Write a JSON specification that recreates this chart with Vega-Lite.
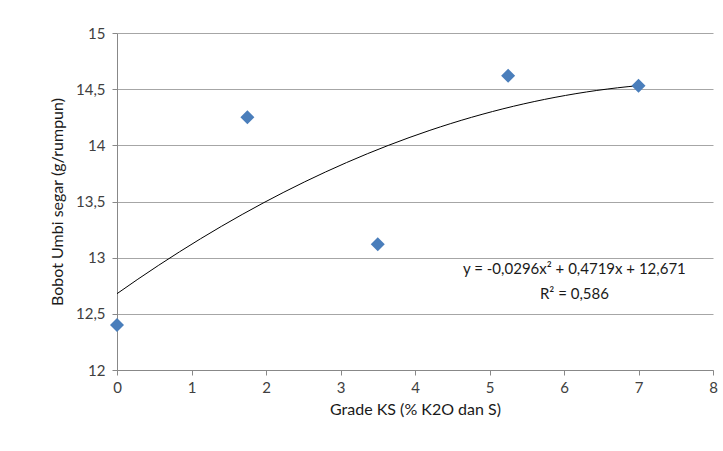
{
  "$schema": "https://vega.github.io/schema/vega-lite/v6.json",
  "width": 596,
  "height": 337,
  "autosize": {"type": "none"},
  "padding": {"left": 117, "top": 33, "right": 10, "bottom": 81},
  "background": "white",
  "config": {
    "view": {"stroke": null},
    "font": "Lato",
    "axis": {
      "labelFont": "Lato",
      "titleFont": "Lato",
      "labelFontSize": 15,
      "titleFontSize": 16,
      "labelColor": "#404040",
      "titleColor": "#1a1a1a",
      "titleFontWeight": "normal",
      "domainColor": "#888888",
      "tickColor": "#888888",
      "gridColor": "#a6a6a6",
      "tickSize": 5
    }
  },
  "datasets": {
    "pts": [
      {"x": 0, "y": 12.4},
      {"x": 1.75, "y": 14.25},
      {"x": 3.5, "y": 13.12},
      {"x": 5.25, "y": 14.62},
      {"x": 7, "y": 14.53}
    ],
    "notes": [
      {"x": 6.14, "y": 12.9, "t": "y = -0,0296x² + 0,4719x + 12,671"},
      {"x": 6.14, "y": 12.68, "t": "R² = 0,586"}
    ]
  },
  "layer": [
    {
      "data": {"name": "pts"},
      "transform": [
        {"regression": "y", "on": "x", "method": "poly", "order": 2, "extent": [0, 7]}
      ],
      "mark": {"type": "line", "color": "black", "strokeWidth": 1, "interpolate": "monotone"},
      "encoding": {
        "x": {
          "field": "x", "type": "quantitative",
          "scale": {"domain": [0, 8], "nice": false},
          "axis": {
            "title": "Grade KS (% K2O dan S)",
            "values": [0, 1, 2, 3, 4, 5, 6, 7, 8],
            "format": "d",
            "grid": false,
            "labelPadding": 5,
            "titlePadding": 6,
            "labelFlush": false
          }
        },
        "y": {
          "field": "y", "type": "quantitative",
          "scale": {"domain": [12, 15], "nice": false, "zero": false},
          "axis": {
            "title": "Bobot Umbi segar (g/rumpun)",
            "values": [12, 12.5, 13, 13.5, 14, 14.5, 15],
            "labelExpr": "replace(format(datum.value, '~g'), '.', ',')",
            "grid": true,
            "labelPadding": 7,
            "titlePadding": 10,
            "labelFlush": false
          }
        }
      }
    },
    {
      "data": {"name": "pts"},
      "mark": {"type": "point", "shape": "diamond", "filled": true, "color": "#4a7ebb", "size": 196, "opacity": 1},
      "encoding": {
        "x": {"field": "x", "type": "quantitative"},
        "y": {"field": "y", "type": "quantitative"}
      }
    },
    {
      "data": {"name": "notes"},
      "mark": {"type": "text", "font": "Lato", "fontSize": 15, "color": "#1a1a1a", "align": "center", "baseline": "middle"},
      "encoding": {
        "x": {"field": "x", "type": "quantitative"},
        "y": {"field": "y", "type": "quantitative"},
        "text": {"field": "t"}
      }
    }
  ]
}
